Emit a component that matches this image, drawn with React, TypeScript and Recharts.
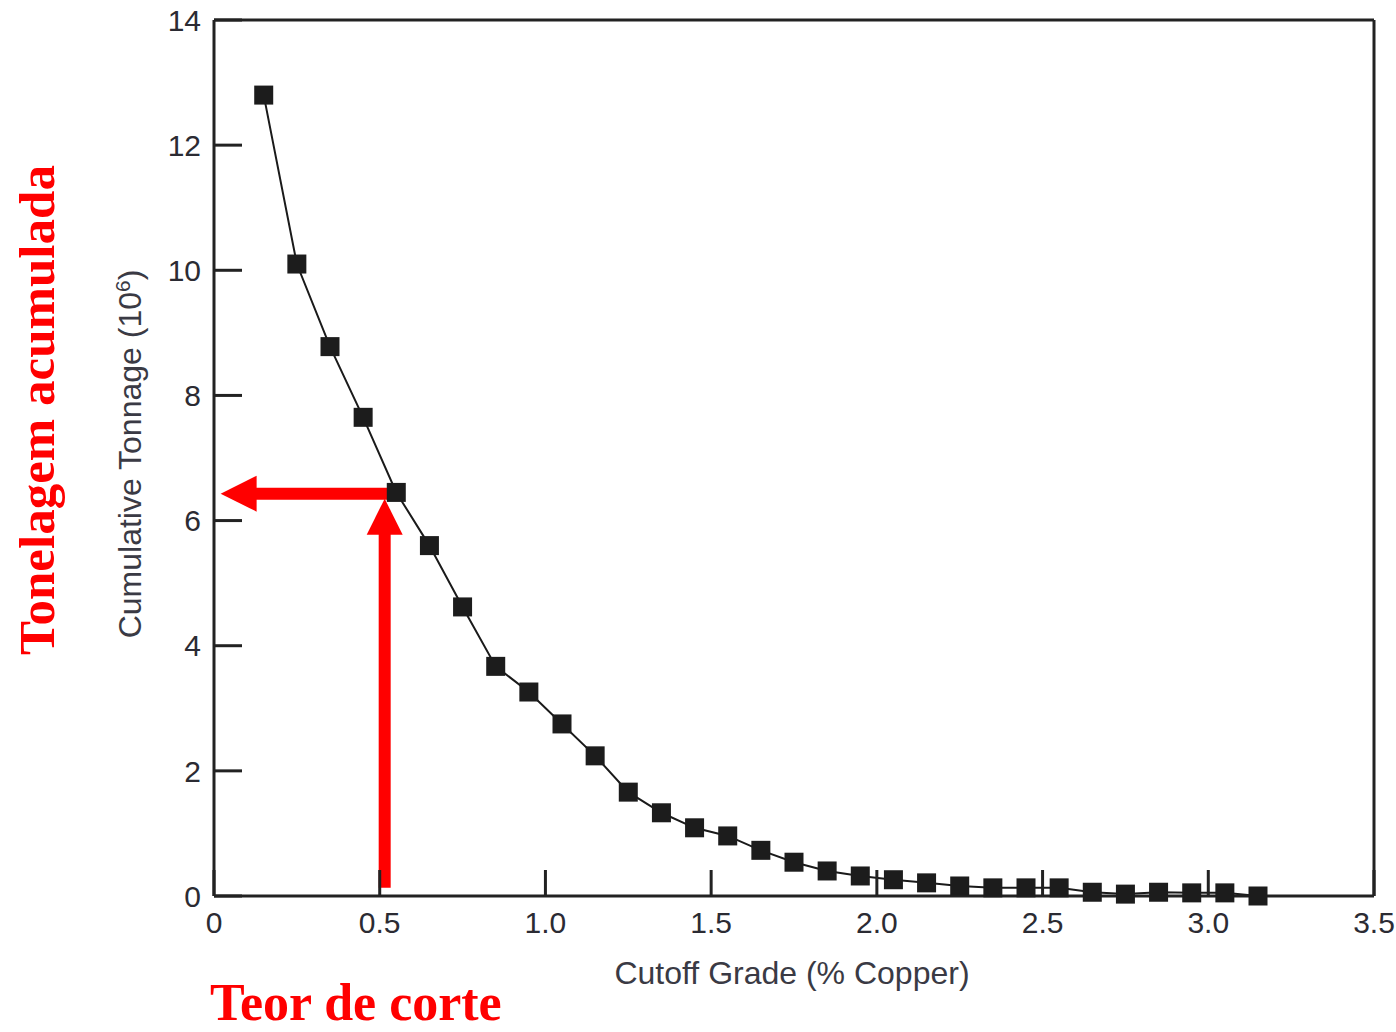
import { ComposedChart, Line, XAxis, YAxis, ReferenceLine, Label } from 'recharts';

// Cutoff grade (% Cu) and cumulative tonnage (10^6 t)
const grades = [
  0.15, 0.25, 0.35, 0.45, 0.55, 0.65, 0.75, 0.85, 0.95, 1.05, 1.15, 1.25, 1.35, 1.45, 1.55, 1.65,
  1.75, 1.85, 1.95, 2.05, 2.15, 2.25, 2.35, 2.45, 2.55, 2.65, 2.75, 2.85, 2.95, 3.05, 3.15,
];
const tonnage = [
  12.8, 10.1, 8.78, 7.65, 6.45, 5.6, 4.62, 3.67, 3.26, 2.75, 2.24, 1.66, 1.33, 1.09, 0.96, 0.73,
  0.54, 0.4, 0.32, 0.26, 0.21, 0.16, 0.13, 0.13, 0.13, 0.06, 0.03, 0.06, 0.05, 0.05, 0.0,
];
const xTicks = [0, 0.5, 1.0, 1.5, 2.0, 2.5, 3.0, 3.5];
const yTicks = [0, 2, 4, 6, 8, 10, 12, 14];

// red annotation: cutoff 0.52 % -> about 6.38 Mt
const cutoffPick = 0.52;
const tonnagePick = 6.38;

const data = grades.map((g, i) => ({ grade: g, tonnage: tonnage[i] }));

const AXIS = '#222';
const TEXT = '#2b2b33';
const FONT = '"Liberation Sans", Arial, sans-serif';
const RED = '#ff0000';

const SquareDot = (props: any) => {
  const { cx, cy, index } = props;
  if (cx == null || cy == null) return <g key={`d-${index}`} />;
  return <rect key={`d-${index}`} x={cx - 9.5} y={cy - 9.5} width={19} height={19} fill="#1c1c1c" />;
};

const arrowShape = (props: any) => {
  const { x1, y1, x2, y2 } = props;
  const dx = x2 - x1;
  const dy = y2 - y1;
  const len = Math.sqrt(dx * dx + dy * dy) || 1;
  const ux = dx / len;
  const uy = dy / len;
  const head = 36;
  const half = 18;
  const bx = x2 - ux * head;
  const by = y2 - uy * head;
  const px = -uy;
  const py = ux;
  const pts = `${x2},${y2} ${bx + px * half},${by + py * half} ${bx - px * half},${by - py * half}`;
  return (
    <g>
      <line x1={x1} y1={y1} x2={bx + ux * 2} y2={by + uy * 2} stroke={RED} strokeWidth={12} />
      <polygon points={pts} fill={RED} />
    </g>
  );
};

const XLabel = (props: any) => {
  const vb = props.viewBox || {};
  return (
    <text x={vb.x + vb.width / 2 - 2} y={984} textAnchor="middle" fontSize={32} fontFamily={FONT} fill="#3a3a44">
      Cutoff Grade (% Copper)
    </text>
  );
};

const YLabel = (props: any) => {
  const vb = props.viewBox || {};
  const cy = vb.y + vb.height / 2;
  return (
    <text
      transform={`translate(141, ${cy - 4}) rotate(-90)`}
      textAnchor="middle"
      fontSize={32}
      fontFamily={FONT}
      fill="#3a3a44"
    >
      Cumulative Tonnage (10
      <tspan baselineShift="super" fontSize={21}>6</tspan>)
    </text>
  );
};

export default function App() {
  return (
    <div style={{ position: 'absolute', left: 0, top: 0, width: 1396, height: 1032, background: '#fff' }}>
      <ComposedChart width={1396} height={1032} data={data} margin={{ top: 18, right: 20, bottom: 46, left: 150 }}>
        <XAxis
          dataKey="grade"
          type="number"
          domain={[0, 3.5]}
          ticks={xTicks}
          tickFormatter={(v: number) => (v === 0 ? '0' : v.toFixed(1))}
          height={90}
          tickSize={-26}
          tickMargin={42}
          axisLine={{ stroke: AXIS, strokeWidth: 3 }}
          tickLine={{ stroke: AXIS, strokeWidth: 3 }}
          tick={{ fill: TEXT, fontSize: 30, fontFamily: FONT }}
          interval={0}
        >
          <Label content={<XLabel />} position="insideBottom" />
        </XAxis>
        <XAxis
          xAxisId="top"
          orientation="top"
          type="number"
          domain={[0, 3.5]}
          ticks={xTicks}
          height={2}
          tickSize={-25}
          tick={false}
          axisLine={{ stroke: AXIS, strokeWidth: 3 }}
          tickLine={{ stroke: AXIS, strokeWidth: 3 }}
        />
        <YAxis
          type="number"
          domain={[0, 14]}
          ticks={yTicks}
          width={64}
          tickSize={-28}
          tickMargin={41}
          axisLine={{ stroke: AXIS, strokeWidth: 3 }}
          tickLine={{ stroke: AXIS, strokeWidth: 3 }}
          tick={{ fill: TEXT, fontSize: 30, fontFamily: FONT }}
          interval={0}
        >
          <Label content={<YLabel />} position="center" />
        </YAxis>
        <YAxis
          yAxisId="right"
          orientation="right"
          type="number"
          domain={[0, 14]}
          ticks={yTicks}
          width={2}
          tickSize={-25}
          tick={false}
          axisLine={{ stroke: AXIS, strokeWidth: 3 }}
          tickLine={{ stroke: AXIS, strokeWidth: 3 }}
        />
        <Line
          type="linear"
          dataKey="tonnage"
          stroke="#1a1a1a"
          strokeWidth={2}
          dot={SquareDot}
          activeDot={false}
          isAnimationActive={false}
        />
        <ReferenceLine
          segment={[
            { x: cutoffPick - 0.005, y: 0.13 },
            { x: cutoffPick - 0.005, y: tonnagePick - 0.03 },
          ]}
          shape={arrowShape}
          ifOverflow="visible"
        />
        <ReferenceLine
          segment={[
            { x: cutoffPick + 0.015, y: tonnagePick + 0.05 },
            { x: 0.02, y: tonnagePick + 0.05 },
          ]}
          shape={arrowShape}
          ifOverflow="visible"
        />
      </ComposedChart>
      <svg
        width={1396}
        height={1032}
        style={{ position: 'absolute', left: 0, top: 0, pointerEvents: 'none' }}
      >
        <text
          transform="translate(54, 410) rotate(-90)"
          textAnchor="middle"
          fontSize={51}
          fontWeight="bold"
          fontFamily='"Liberation Serif", "Times New Roman", serif'
          fill={RED}
        >
          Tonelagem acumulada
        </text>
        <text
          x={210}
          y={1020}
          fontSize={52}
          fontWeight="bold"
          fontFamily='"Liberation Serif", "Times New Roman", serif'
          fill={RED}
        >
          Teor de corte
        </text>
      </svg>
    </div>
  );
}
